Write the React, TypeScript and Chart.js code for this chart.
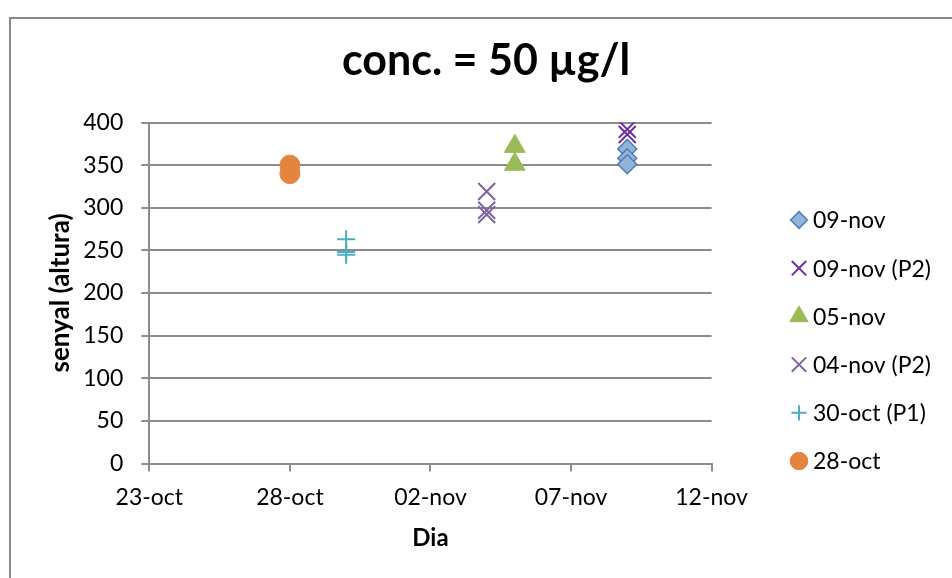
import React, { useEffect, useRef } from 'react';
import { Chart, registerables } from 'chart.js';
import { drawPoint } from 'chart.js/helpers';

Chart.register(...registerables);

// ---- data ----
const chartTitle = 'conc. = 50 µg/l';
const xAxisTitle = 'Dia';
const yAxisTitle = 'senyal (altura)';

const xTickDates = ['2014-10-23', '2014-10-28', '2014-11-02', '2014-11-07', '2014-11-12'];
const xTickLabels = ['23-oct', '28-oct', '02-nov', '07-nov', '12-nov'];
const yMin = 0;
const yMax = 400;
const yStep = 50;

const seriesNames = ['09-nov', '09-nov (P2)', '05-nov', '04-nov (P2)', '30-oct (P1)', '28-oct'];
const seriesDates = ['2014-11-09', '2014-11-09', '2014-11-05', '2014-11-04', '2014-10-30', '2014-10-28'];
const values09nov = [369, 358, 351];
const values09novP2 = [392, 386];
const values05nov = [372, 351];
const values04novP2 = [319, 297, 292];
const values30octP1 = [263, 248, 245];
const values28oct = [350, 340];
const seriesValues = [values09nov, values09novP2, values05nov, values04novP2, values30octP1, values28oct];

// ---- styles ----
const FONT = 'Lato, "Open Sans", sans-serif';
const GRID = '#8c8c8c';
const markerStyles = [
  { pointStyle: 'rectRot', radius: 9.5, bg: '#95B3D7', border: '#4A7EBB', width: 1.5 },
  { pointStyle: 'crossRot', radius: 12, bg: '#7030A0', border: '#7030A0', width: 2 },
  { pointStyle: 'triangle', radius: 12, bg: '#9BBB59', border: '#9BBB59', width: 1 },
  { pointStyle: 'crossRot', radius: 12, bg: '#8064A2', border: '#8064A2', width: 2 },
  { pointStyle: 'cross', radius: 9, bg: '#4BACC6', border: '#4BACC6', width: 2 },
  { pointStyle: 'circle', radius: 10, bg: '#E3853E', border: '#E3853E', width: 1 },
];

const dayOf = (iso: string) => {
  const [y, m, d] = iso.split('-').map(Number);
  return Date.UTC(y, m - 1, d) / 86400000;
};

const decorPlugin = {
  id: 'decor',
  beforeDraw(chart: any) {
    const ctx = chart.ctx;
    ctx.save();
    ctx.strokeStyle = '#8a8a8a';
    ctx.lineWidth = 2;
    ctx.strokeRect(10, 18, 1000, 1000);
    ctx.restore();
  },
  afterDraw(chart: any) {
    const ctx = chart.ctx;
    ctx.save();
    ctx.fillStyle = '#000';
    ctx.font = `bold 43px ${FONT}`;
    ctx.textAlign = 'center';
    ctx.textBaseline = 'middle';
    ctx.fillText(chartTitle, 486, 61);

    ctx.font = `23px ${FONT}`;
    ctx.textAlign = 'left';
    seriesNames.forEach((name, i) => {
      const y = 220 + i * 48.2;
      const s = markerStyles[i];
      ctx.fillStyle = s.bg;
      ctx.strokeStyle = s.border;
      ctx.lineWidth = s.width;
      const r = s.pointStyle.startsWith('cross') ? s.radius * 0.85 : s.radius * 0.88;
      drawPoint(ctx, { pointStyle: s.pointStyle, radius: r, rotation: 0, borderWidth: s.width }, 799, y);
      ctx.fillStyle = '#000';
      ctx.fillText(name, 813, y + 1);
    });
    ctx.restore();
  },
};

export default function App() {
  const ref = useRef<HTMLCanvasElement>(null);

  useEffect(() => {
    if (!ref.current) return;
    const datasets = seriesNames.map((name, i) => {
      const s = markerStyles[i];
      const x = dayOf(seriesDates[i]);
      return {
        label: name,
        data: seriesValues[i].map((v) => ({ x, y: v })),
        pointStyle: s.pointStyle,
        pointRadius: s.radius,
        pointBackgroundColor: s.bg,
        pointBorderColor: s.border,
        pointBorderWidth: s.width,
        showLine: false,
      };
    });

    const chart = new Chart(ref.current, {
      type: 'scatter',
      data: { datasets },
      plugins: [decorPlugin],
      options: {
        animation: false,
        responsive: false,
        events: [],
        layout: { padding: { left: 0, top: 122.5, right: 240.4, bottom: 0 } },
        plugins: { legend: { display: false }, title: { display: false }, tooltip: { enabled: false } },
        scales: {
          x: {
            type: 'linear',
            min: dayOf(xTickDates[0]),
            max: dayOf(xTickDates[xTickDates.length - 1]),
            afterBuildTicks: (scale: any) => {
              scale.ticks = xTickDates.map((d) => ({ value: dayOf(d) }));
            },
            afterFit: (scale: any) => {
              scale.height = 114.5;
            },
            ticks: {
              autoSkip: false,
              maxRotation: 0,
              padding: 12,
              color: '#000',
              font: { family: FONT, size: 23 },
              callback: (_v: any, i: number) => xTickLabels[i],
            },
            grid: { drawOnChartArea: false, drawTicks: true, tickLength: 8, color: GRID, lineWidth: 2 },
            border: { display: true, color: GRID, width: 2 },
            title: {
              display: true,
              text: xAxisTitle,
              color: '#000',
              font: { family: FONT, size: 24, weight: 'bold' },
              padding: { top: 0, bottom: 25.6 },
            },
          },
          y: {
            min: yMin,
            max: yMax,
            afterFit: (scale: any) => {
              scale.width = 149.3;
            },
            ticks: {
              stepSize: yStep,
              padding: 18,
              color: '#000',
              font: { family: FONT, size: 23 },
            },
            grid: { drawTicks: true, tickLength: 8, color: GRID, lineWidth: 2 },
            border: { display: true, color: GRID, width: 2 },
            title: {
              display: true,
              text: yAxisTitle,
              color: '#000',
              font: { family: FONT, size: 26, weight: 'bold' },
              padding: { top: 45, bottom: 0 },
            },
          },
        },
      },
    } as any);
    return () => chart.destroy();
  }, []);

  return (
    <div style={{ position: 'fixed', left: 0, top: 0, width: 952, height: 578, background: '#fff' }}>
      <canvas ref={ref} width={952} height={578} style={{ width: 952, height: 578, display: 'block' }} />
    </div>
  );
}
